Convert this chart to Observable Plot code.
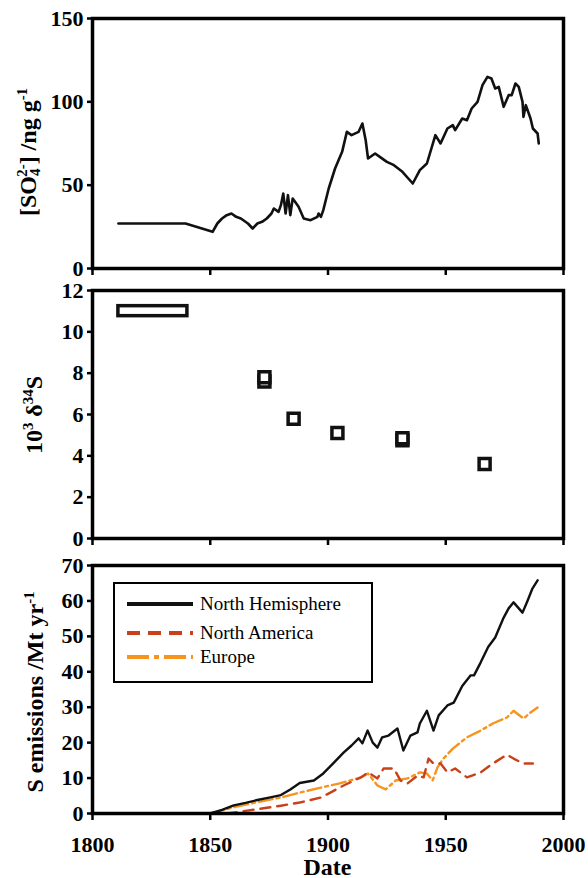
<!DOCTYPE html>
<html><head><meta charset="utf-8">
<script src="https://cdn.jsdelivr.net/npm/d3@7"></script>
<script src="https://cdn.jsdelivr.net/npm/@observablehq/plot@0.6"></script>
<style>
body{margin:0;background:#fff;}
#wrap, #wrap *, #wrap svg text{font-family:'Liberation Serif', serif !important;}
#wrap{position:relative;width:588px;height:878px;overflow:hidden;color:#000;}
</style>
</head><body>
<div id="wrap"></div>
<script>
// ---------- data ----------
const xTicks = [1800, 1850, 1900, 1950, 2000];
const xTickLabels = ["1800", "1850", "1900", "1950", "2000"];

// Panel 1: sulfate concentration
const sulfYear = [1811, 1839.5, 1851, 1853, 1855, 1857, 1859, 1861, 1863, 1866, 1868, 1870, 1872, 1874, 1876, 1877, 1879, 1880, 1881, 1882, 1883, 1884, 1885, 1886, 1887.5, 1889.7, 1892.6, 1895.5, 1896, 1897, 1898, 1900.3, 1903, 1906, 1908, 1910, 1913, 1914.6, 1916, 1917, 1920, 1922, 1925, 1928, 1931.6, 1936, 1939, 1942, 1945.6, 1947.8, 1950.7, 1953, 1954, 1957, 1959, 1961, 1963.5, 1965.6, 1967.7, 1969.4, 1971, 1972.5, 1974.6, 1976.7, 1978, 1979.6, 1981, 1982.6, 1983, 1984, 1986, 1987, 1989, 1989.5];
const sulfConc = [27, 27, 22, 27, 30, 32, 33, 31, 30, 27, 24, 27, 28, 30, 33, 36, 34, 38, 45, 33, 44, 32, 42, 40, 37, 30, 29, 31, 33, 31, 35, 48, 60, 70, 82, 80, 82, 87, 77, 66, 69, 67, 64, 62, 58, 51, 59, 63, 80, 75, 84, 86, 83, 90, 89, 96, 100, 110, 115, 114, 108, 109, 97, 104, 104, 111, 109, 100, 91, 98, 90, 84, 81, 75];

// Panel 2: delta34S
const barStart = [1811];
const barEnd = [1840.3];
const barValue = [11];
const isoYear = [1873, 1873, 1885.4, 1904, 1931.6, 1931.6, 1966.5];
const isoValue = [7.6, 7.8, 5.8, 5.1, 4.75, 4.85, 3.6];

// Panel 3: S emissions
const nhYear = [1850, 1855, 1860, 1865, 1870, 1875, 1880, 1884, 1888, 1894, 1898, 1902, 1906.6, 1910, 1913, 1914.6, 1916.8, 1919, 1921, 1923, 1925.7, 1929.5, 1932, 1935, 1938, 1939, 1942, 1944.8, 1947, 1950.7, 1953.4, 1957, 1960.6, 1962, 1964.8, 1968, 1971, 1974.6, 1976.7, 1978.8, 1982.6, 1984.7, 1986.8, 1989];
const nhValue = [0, 1, 2.3, 3, 3.8, 4.5, 5.2, 6.8, 8.6, 9.3, 11.3, 14, 17.2, 19.2, 21.2, 19.8, 23.4, 20, 18.6, 21.5, 22, 24, 17.8, 22, 22.9, 25.4, 29, 23.4, 27.7, 30.5, 31.3, 36, 39, 39, 42.6, 47, 49.7, 55.3, 57.9, 59.6, 56.7, 60, 63.5, 65.8];
const naYear = [1857, 1870, 1880, 1888, 1897, 1901, 1906.6, 1914, 1917, 1921, 1923.6, 1928, 1930.8, 1933.8, 1938, 1940.6, 1942.7, 1944.8, 1947.8, 1950.7, 1954, 1959, 1964.8, 1970, 1976, 1978.8, 1983, 1987];
const naValue = [0, 1.2, 2.2, 3.1, 4.5, 5.9, 7.9, 10.2, 11.6, 9.9, 12.7, 12.7, 9.3, 8.5, 10.7, 10.2, 15.5, 14.1, 14.1, 11.6, 12.7, 10.2, 11.6, 14.1, 16.6, 15.5, 14.1, 14.1];
const euYear = [1850, 1860, 1870, 1880, 1888, 1897, 1905, 1914, 1917, 1921, 1924.5, 1928.7, 1933.8, 1939, 1942, 1944.4, 1946.5, 1949, 1953, 1959, 1964.8, 1970, 1976, 1978.8, 1983, 1986, 1989];
const euValue = [0, 1.8, 3.2, 4.5, 5.9, 7.3, 8.5, 10.2, 11.3, 7.9, 6.8, 9.3, 9.9, 11.6, 11.3, 9.3, 13, 15.5, 18.3, 21.5, 23.4, 25.4, 27.1, 29, 26.8, 28.5, 29.9];

const seriesNames = ["North Hemisphere", "North America", "Europe"];
const seriesColors = ["#111111", "#c8411b", "#f7941d"];
const seriesDash = [null, "10,7", "14,4,3,4"];
const legendDash = [null, "13,8", "22,5,5,5"];

const yTicks1 = [0, 50, 100, 150];
const yTicks2 = [0, 2, 4, 6, 8, 10, 12];
const yTicks3 = [0, 10, 20, 30, 40, 50, 60, 70];

// ---------- build ----------
const FONT = "Liberation Serif";
const setFont = (el) => el.style.setProperty("font-family", "'Liberation Serif', serif", "important");
const zip = (xs, ys) => xs.map((x, i) => ({x, y: ys[i]}));
const sulf = zip(sulfYear, sulfConc);
const bars = barStart.map((s, i) => ({x1: s, x2: barEnd[i], y: barValue[i]}));
const iso = zip(isoYear, isoValue);
const nh = zip(nhYear, nhValue);
const na = zip(naYear, naValue);
const eu = zip(euYear, euValue);

const common = {
  width: 588, marginLeft: 92, marginRight: 25,
  x: {domain: [1800, 2000]},
  style: {background: "transparent", color: "#000", overflow: "visible"}
};
const yAxis = (ticks) => Plot.axisY({ticks, tickSize: 5, tickPadding: 4, fontSize: 22, fontWeight: "bold", strokeWidth: 2.5, label: null});

const p1 = Plot.plot({
  ...common, height: 278, marginTop: 18, marginBottom: 10,
  y: {domain: [0, 150]},
  marks: [
    Plot.axisX({ticks: xTicks, tickSize: 7, tickFormat: () => "", strokeWidth: 2.5, label: null}),
    yAxis(yTicks1),
    Plot.line(sulf, {x: "x", y: "y", stroke: "#111", strokeWidth: 2.6}),
    Plot.frame({strokeWidth: 3.5})
  ]
});

const p2 = Plot.plot({
  ...common, height: 272, marginTop: 12, marginBottom: 12,
  y: {domain: [0, 12]},
  marks: [
    Plot.axisX({ticks: xTicks, tickSize: 7, tickFormat: () => "", strokeWidth: 2.5, label: null}),
    yAxis(yTicks2),
    Plot.rect(bars, {x1: "x1", x2: "x2", y1: "y", y2: "y", insetTop: -5, insetBottom: -5, fill: "white", stroke: "#111", strokeWidth: 3.5}),
    Plot.dot(iso, {x: "x", y: "y", symbol: "square", r: 6.2, fill: "white", stroke: "#111", strokeWidth: 3.5}),
    Plot.frame({strokeWidth: 3.5})
  ]
});

const p3 = Plot.plot({
  ...common, height: 328, marginTop: 15, marginBottom: 65,
  y: {domain: [0, 70]},
  marks: [
    Plot.axisX({ticks: xTicks, tickSize: 7, tickPadding: 16, tickFormat: (d) => xTickLabels[xTicks.indexOf(d)], fontSize: 22, fontWeight: "bold", strokeWidth: 2.5, label: null}),
    yAxis(yTicks3),
    Plot.line(eu, {x: "x", y: "y", stroke: seriesColors[2], strokeWidth: 2.4, strokeDasharray: seriesDash[2]}),
    Plot.line(na, {x: "x", y: "y", stroke: seriesColors[1], strokeWidth: 2.4, strokeDasharray: seriesDash[1]}),
    Plot.line(nh, {x: "x", y: "y", stroke: seriesColors[0], strokeWidth: 2.4}),
    Plot.frame({strokeWidth: 3.5})
  ]
});

const wrap = document.getElementById("wrap");
[[p1, 0], [p2, 278], [p3, 550]].forEach(([p, top]) => {
  p.setAttribute("font-family", FONT);
  setFont(p);
  p.style.position = "absolute";
  p.style.left = "0px";
  p.style.top = top + "px";
  p.style.display = "block";
  p.querySelectorAll("g, text").forEach(el => { el.setAttribute("font-family", FONT); setFont(el); });
  wrap.appendChild(p);
});

const supS = "font-size:0.62em;vertical-align:0.6em;line-height:0";
const subS = "font-size:0.62em;vertical-align:-0.25em;line-height:0";
function addLabel(html, x, y, rotate) {
  const d = document.createElement("div");
  d.innerHTML = html;
  Object.assign(d.style, {
    position: "absolute", left: x + "px", top: y + "px",
    fontWeight: "bold", fontSize: "24px", lineHeight: rotate ? "1" : "18px", whiteSpace: "nowrap",
    transform: rotate ? "translate(-50%,-50%) rotate(-90deg)" : "translateX(-50%)"
  });
  setFont(d);
  wrap.appendChild(d);
  return d;
}
addLabel(`[SO<sub style="${subS}">4</sub><sup style="${supS};margin-left:-0.55em">2-</sup>] /ng g<sup style="${supS}">-1</sup>`, 28, 152, true);
addLabel(`10<sup style="${supS}">3</sup> &delta;<sup style="${supS}">34</sup>S`, 34, 415, true);
addLabel(`S emissions /Mt yr<sup style="${supS}">-1</sup>`, 35, 692, true);
addLabel("Date", 327.5, 858, false);

// legend
const leg = document.createElement("div");
Object.assign(leg.style, {position: "absolute", left: "113px", top: "582px", width: "260px", height: "101px", boxSizing: "border-box", border: "2.5px solid #000", background: "#fff"});
wrap.appendChild(leg);
const rowTops = [9, 38, 62];
seriesNames.forEach((name, i) => {
  const row = document.createElement("div");
  Object.assign(row.style, {position: "absolute", left: "0px", top: rowTops[i] + "px", height: "22px", width: "250px"});
  const dash = legendDash[i] ? ` stroke-dasharray="${legendDash[i]}"` : "";
  row.innerHTML = `<svg width="70" height="16" style="position:absolute;left:10px;top:3px"><line x1="2" y1="8" x2="68" y2="8" stroke="${seriesColors[i]}" stroke-width="4"${dash}/></svg><span style="position:absolute;left:85px;top:0;font-size:19px;line-height:22px;white-space:nowrap">${name}</span>`;
  row.querySelectorAll("span").forEach(setFont);
  leg.appendChild(row);
});
</script>
</body></html>
